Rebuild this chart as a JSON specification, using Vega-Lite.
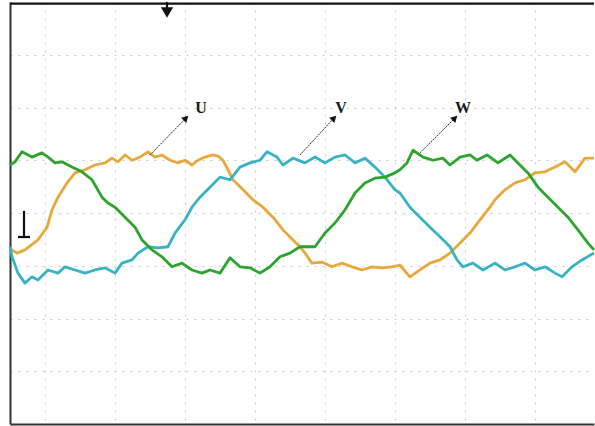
{
  "$schema": "https://vega.github.io/schema/vega-lite/v6.json",
  "width": 584,
  "height": 422,
  "autosize": {"type": "none"},
  "padding": {"left": 10, "top": 2, "right": 1, "bottom": 2},
  "background": "white",
  "config": {"view": {"stroke": null}},
  "datasets": {
    "waves": [
      {"p":"U","t":-0.5,"v":-0.66},{"p":"U","t":-0.471,"v":-0.70},{"p":"U","t":-0.40,"v":-0.76},{"p":"U","t":-0.286,"v":-0.70},{"p":"U","t":-0.10,"v":-0.51},{"p":"U","t":0.029,"v":-0.27},{"p":"U","t":0.10,"v":0.06},{"p":"U","t":0.186,"v":0.30},{"p":"U","t":0.314,"v":0.57},{"p":"U","t":0.429,"v":0.76},{"p":"U","t":0.571,"v":0.82},{"p":"U","t":0.714,"v":0.91},{"p":"U","t":0.857,"v":0.95},{"p":"U","t":0.957,"v":1.04},{"p":"U","t":1.043,"v":0.97},{"p":"U","t":1.143,"v":1.10},{"p":"U","t":1.243,"v":1.00},{"p":"U","t":1.357,"v":1.06},{"p":"U","t":1.471,"v":1.16},{"p":"U","t":1.571,"v":1.06},{"p":"U","t":1.671,"v":1.10},{"p":"U","t":1.786,"v":1.00},{"p":"U","t":1.90,"v":0.95},{"p":"U","t":2.0,"v":1.00},{"p":"U","t":2.10,"v":0.91},{"p":"U","t":2.186,"v":1.00},{"p":"U","t":2.286,"v":1.06},{"p":"U","t":2.40,"v":1.10},{"p":"U","t":2.471,"v":1.08},{"p":"U","t":2.543,"v":1.00},{"p":"U","t":2.614,"v":0.82},{"p":"U","t":2.686,"v":0.63},{"p":"U","t":2.829,"v":0.44},{"p":"U","t":2.971,"v":0.25},{"p":"U","t":3.114,"v":0.11},{"p":"U","t":3.257,"v":-0.08},{"p":"U","t":3.40,"v":-0.32},{"p":"U","t":3.543,"v":-0.51},{"p":"U","t":3.643,"v":-0.64},{"p":"U","t":3.714,"v":-0.76},{"p":"U","t":3.814,"v":-0.95},{"p":"U","t":3.957,"v":-0.93},{"p":"U","t":4.10,"v":-1.02},{"p":"U","t":4.243,"v":-0.95},{"p":"U","t":4.386,"v":-1.02},{"p":"U","t":4.529,"v":-1.08},{"p":"U","t":4.671,"v":-1.02},{"p":"U","t":4.814,"v":-1.04},{"p":"U","t":4.957,"v":-1.02},{"p":"U","t":5.071,"v":-0.99},{"p":"U","t":5.214,"v":-1.21},{"p":"U","t":5.357,"v":-1.08},{"p":"U","t":5.50,"v":-0.95},{"p":"U","t":5.643,"v":-0.89},{"p":"U","t":5.786,"v":-0.76},{"p":"U","t":5.929,"v":-0.57},{"p":"U","t":6.071,"v":-0.38},{"p":"U","t":6.214,"v":-0.13},{"p":"U","t":6.357,"v":0.11},{"p":"U","t":6.429,"v":0.25},{"p":"U","t":6.571,"v":0.44},{"p":"U","t":6.714,"v":0.57},{"p":"U","t":6.857,"v":0.63},{"p":"U","t":7.0,"v":0.76},{"p":"U","t":7.143,"v":0.78},{"p":"U","t":7.286,"v":0.87},{"p":"U","t":7.429,"v":0.97},{"p":"U","t":7.571,"v":0.78},{"p":"U","t":7.714,"v":1.04},{"p":"U","t":7.843,"v":1.04},
      {"p":"V","t":-0.5,"v":-0.64},{"p":"V","t":-0.471,"v":-0.83},{"p":"V","t":-0.386,"v":-1.14},{"p":"V","t":-0.286,"v":-1.33},{"p":"V","t":-0.186,"v":-1.21},{"p":"V","t":-0.10,"v":-1.27},{"p":"V","t":0.043,"v":-1.08},{"p":"V","t":0.186,"v":-1.14},{"p":"V","t":0.286,"v":-1.02},{"p":"V","t":0.429,"v":-1.08},{"p":"V","t":0.571,"v":-1.14},{"p":"V","t":0.714,"v":-1.08},{"p":"V","t":0.857,"v":-1.04},{"p":"V","t":1.0,"v":-1.14},{"p":"V","t":1.10,"v":-0.95},{"p":"V","t":1.243,"v":-0.89},{"p":"V","t":1.329,"v":-0.76},{"p":"V","t":1.471,"v":-0.64},{"p":"V","t":1.614,"v":-0.66},{"p":"V","t":1.757,"v":-0.64},{"p":"V","t":1.857,"v":-0.38},{"p":"V","t":2.0,"v":-0.13},{"p":"V","t":2.10,"v":0.11},{"p":"V","t":2.214,"v":0.30},{"p":"V","t":2.357,"v":0.49},{"p":"V","t":2.50,"v":0.68},{"p":"V","t":2.643,"v":0.63},{"p":"V","t":2.786,"v":0.87},{"p":"V","t":2.929,"v":0.95},{"p":"V","t":3.071,"v":1.00},{"p":"V","t":3.171,"v":1.16},{"p":"V","t":3.314,"v":1.06},{"p":"V","t":3.40,"v":0.91},{"p":"V","t":3.543,"v":1.04},{"p":"V","t":3.714,"v":0.95},{"p":"V","t":3.857,"v":1.06},{"p":"V","t":4.0,"v":0.95},{"p":"V","t":4.143,"v":1.06},{"p":"V","t":4.286,"v":1.10},{"p":"V","t":4.429,"v":0.95},{"p":"V","t":4.571,"v":1.04},{"p":"V","t":4.714,"v":0.87},{"p":"V","t":4.857,"v":0.68},{"p":"V","t":5.0,"v":0.44},{"p":"V","t":5.071,"v":0.38},{"p":"V","t":5.214,"v":0.11},{"p":"V","t":5.357,"v":-0.08},{"p":"V","t":5.50,"v":-0.27},{"p":"V","t":5.643,"v":-0.45},{"p":"V","t":5.786,"v":-0.64},{"p":"V","t":5.886,"v":-0.89},{"p":"V","t":5.971,"v":-1.02},{"p":"V","t":6.114,"v":-0.95},{"p":"V","t":6.257,"v":-1.08},{"p":"V","t":6.429,"v":-0.95},{"p":"V","t":6.571,"v":-1.08},{"p":"V","t":6.714,"v":-1.02},{"p":"V","t":6.857,"v":-0.95},{"p":"V","t":7.0,"v":-1.08},{"p":"V","t":7.143,"v":-1.02},{"p":"V","t":7.286,"v":-1.14},{"p":"V","t":7.386,"v":-1.21},{"p":"V","t":7.529,"v":-1.02},{"p":"V","t":7.671,"v":-0.89},{"p":"V","t":7.843,"v":-0.76},
      {"p":"W","t":-0.5,"v":0.91},{"p":"W","t":-0.429,"v":0.97},{"p":"W","t":-0.329,"v":1.16},{"p":"W","t":-0.186,"v":1.06},{"p":"W","t":-0.043,"v":1.14},{"p":"W","t":0.043,"v":1.06},{"p":"W","t":0.143,"v":0.95},{"p":"W","t":0.243,"v":0.97},{"p":"W","t":0.386,"v":0.87},{"p":"W","t":0.529,"v":0.78},{"p":"W","t":0.671,"v":0.63},{"p":"W","t":0.814,"v":0.30},{"p":"W","t":0.90,"v":0.19},{"p":"W","t":1.0,"v":0.11},{"p":"W","t":1.143,"v":-0.08},{"p":"W","t":1.286,"v":-0.27},{"p":"W","t":1.386,"v":-0.51},{"p":"W","t":1.529,"v":-0.70},{"p":"W","t":1.671,"v":-0.83},{"p":"W","t":1.814,"v":-1.02},{"p":"W","t":1.957,"v":-0.95},{"p":"W","t":2.10,"v":-1.08},{"p":"W","t":2.243,"v":-1.14},{"p":"W","t":2.357,"v":-1.08},{"p":"W","t":2.50,"v":-1.14},{"p":"W","t":2.643,"v":-0.85},{"p":"W","t":2.786,"v":-1.02},{"p":"W","t":2.929,"v":-1.04},{"p":"W","t":3.071,"v":-1.14},{"p":"W","t":3.214,"v":-1.02},{"p":"W","t":3.357,"v":-0.83},{"p":"W","t":3.50,"v":-0.76},{"p":"W","t":3.643,"v":-0.64},{"p":"W","t":3.714,"v":-0.64},{"p":"W","t":3.857,"v":-0.64},{"p":"W","t":4.0,"v":-0.38},{"p":"W","t":4.143,"v":-0.19},{"p":"W","t":4.286,"v":0.06},{"p":"W","t":4.429,"v":0.38},{"p":"W","t":4.571,"v":0.57},{"p":"W","t":4.714,"v":0.66},{"p":"W","t":4.857,"v":0.68},{"p":"W","t":5.0,"v":0.76},{"p":"W","t":5.071,"v":0.82},{"p":"W","t":5.171,"v":0.95},{"p":"W","t":5.257,"v":1.19},{"p":"W","t":5.40,"v":1.06},{"p":"W","t":5.543,"v":1.00},{"p":"W","t":5.686,"v":1.04},{"p":"W","t":5.786,"v":0.91},{"p":"W","t":5.929,"v":1.06},{"p":"W","t":6.071,"v":1.10},{"p":"W","t":6.171,"v":1.00},{"p":"W","t":6.314,"v":1.10},{"p":"W","t":6.471,"v":0.95},{"p":"W","t":6.643,"v":1.10},{"p":"W","t":6.757,"v":0.95},{"p":"W","t":6.90,"v":0.76},{"p":"W","t":7.043,"v":0.49},{"p":"W","t":7.186,"v":0.30},{"p":"W","t":7.329,"v":0.11},{"p":"W","t":7.471,"v":-0.08},{"p":"W","t":7.614,"v":-0.32},{"p":"W","t":7.757,"v":-0.57},{"p":"W","t":7.843,"v":-0.70}
    ],
    "labels": [
      {"name":"U","t0":1.50,"v0":1.10,"t1":2.014,"v1":1.80,"lt":2.229,"lv":1.99},
      {"name":"V","t0":3.643,"v0":1.10,"t1":4.129,"v1":1.80,"lt":4.229,"lv":1.99},
      {"name":"W","t0":5.357,"v0":1.14,"t1":5.857,"v1":1.80,"lt":5.971,"lv":1.99}
    ],
    "markers": [
      {"t0":1.743,"v0":4.0,"t1":1.743,"v1":3.84},
      {"t0":-0.30,"v0":0.04,"t1":-0.30,"v1":-0.455},
      {"t0":-0.386,"v0":-0.455,"t1":-0.214,"v1":-0.455},
      {"t0":-0.5,"v0":3.97,"t1":7.843,"v1":3.97}
    ]
  },
  "layer": [
    {
      "data": {"name": "waves"},
      "mark": {"type": "line", "strokeWidth": 2.8, "strokeJoin": "round"},
      "encoding": {
        "x": {"field": "t", "type": "quantitative",
              "scale": {"domain": [-0.5, 7.843], "nice": false, "zero": false},
              "axis": {"title": null, "labels": false, "ticks": false, "values": [0,1,2,3,4,5,6,7],
                       "grid": true, "gridColor": "#c9c9c9", "gridDash": [2, 6], "gridWidth": 1,
                       "domain": true, "domainColor": "#333333", "domainWidth": 2}},
        "y": {"field": "v", "type": "quantitative",
              "scale": {"domain": [-4, 4], "nice": false, "zero": false},
              "axis": {"title": null, "labels": false, "ticks": false, "values": [-3,-2,-1,0,1,2,3],
                       "grid": true, "gridColor": "#c9c9c9", "gridDash": [2, 6], "gridWidth": 1,
                       "domain": true, "domainColor": "#333333", "domainWidth": 2}},
        "color": {"field": "p", "type": "nominal",
                  "scale": {"domain": ["U", "V", "W"], "range": ["#E8A83B", "#38B3C4", "#2BA52B"]},
                  "legend": null},
        "detail": {"field": "p"}
      }
    },
    {
      "data": {"name": "labels"},
      "mark": {"type": "rule", "color": "#222222", "strokeWidth": 1, "strokeDash": [2, 1]},
      "encoding": {
        "x": {"field": "t0", "type": "quantitative"},
        "y": {"field": "v0", "type": "quantitative"},
        "x2": {"field": "t1"},
        "y2": {"field": "v1"}
      }
    },
    {
      "data": {"name": "labels"},
      "mark": {"type": "point", "shape": "triangle-up", "filled": true, "color": "#111111", "size": 55, "angle": 45, "opacity": 1},
      "encoding": {
        "x": {"field": "t1", "type": "quantitative"},
        "y": {"field": "v1", "type": "quantitative"}
      }
    },
    {
      "data": {"name": "labels"},
      "mark": {"type": "text", "font": "Liberation Serif", "fontSize": 16, "fontWeight": "bold", "color": "#1a1a1a", "align": "center", "baseline": "middle"},
      "encoding": {
        "x": {"field": "lt", "type": "quantitative"},
        "y": {"field": "lv", "type": "quantitative"},
        "text": {"field": "name"}
      }
    },
    {
      "data": {"name": "markers"},
      "mark": {"type": "rule", "color": "#111111", "strokeWidth": 2.2},
      "encoding": {
        "x": {"field": "t0", "type": "quantitative"},
        "y": {"field": "v0", "type": "quantitative"},
        "x2": {"field": "t1"},
        "y2": {"field": "v1"}
      }
    },
    {
      "data": {"values": [{"t": 1.743, "v": 3.8}]},
      "mark": {"type": "point", "shape": "triangle-down", "filled": true, "color": "#111111", "size": 150, "opacity": 1},
      "encoding": {
        "x": {"field": "t", "type": "quantitative"},
        "y": {"field": "v", "type": "quantitative"}
      }
    }
  ]
}
